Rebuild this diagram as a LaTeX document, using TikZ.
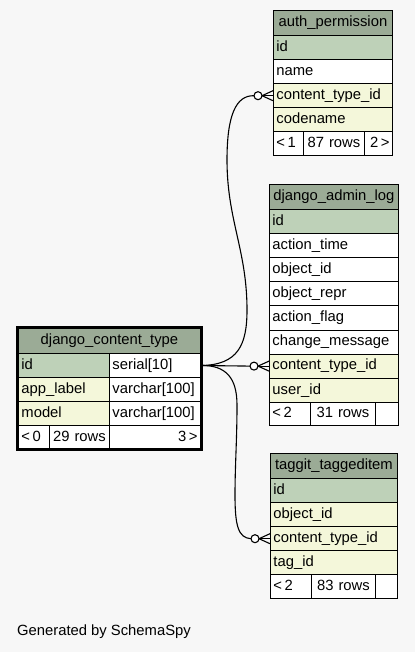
\documentclass[tikz,border=0pt]{standalone}
\usepackage{fontspec}
\setmainfont{Liberation Sans}
\usetikzlibrary{calc}
\definecolor{bg}{HTML}{F7F7F7}
\definecolor{hdr}{HTML}{9BAB96}
\definecolor{pk}{HTML}{BED1B8}
\definecolor{fk}{HTML}{F4F7DA}
\tikzset{
  tcellsty/.style={draw=black, line width=0.9pt, anchor=north west, inner xsep=3pt, inner ysep=0pt,
    text height=10.6pt, text depth=3pt, font=\fontsize{14.8}{17}\selectfont},
  conn/.style={draw=black, line width=1.1pt},
  plain/.style={font=\fontsize{14.8}{17}\selectfont, inner sep=0pt},
}
\newcommand\tcell[8]{%
  \pgfmathsetmacro\tcw{#4-6}%
  \node[tcellsty, fill=#6, minimum width=#4pt, minimum height=#5pt, text width=\tcw pt, align=#8] (#1) at (#2,#3) {#7};}
\newcommand\crowfoot[2]{% #1 row node, #2 name prefix
  \coordinate (#2T) at ($(#1.west)+(-11,0)$);
  \coordinate (#2C) at ($(#2T)+(-8,0)$);
  \draw[conn] ($(#1.west)+(0,-5)$) -- (#2T) -- ($(#1.west)+(0,5)$);
  \draw[conn] (#1.west) -- (#2T);
  \draw[conn, fill=white] ($(#2T)+(-4,0)$) circle[radius=4pt];}
\begin{document}
\begin{tikzpicture}[x=1pt, y=-1pt]
\fill[bg] (0,0) rectangle (415,652);
\useasboundingbox (0,0) rectangle (415,652);

% auth_permission
\tcell{ap-h}{273}{10}{119}{25}{hdr}{auth\_permission}{center}
\tcell{ap-id}{273}{35}{119}{24.1}{pk}{id}{left}
\tcell{ap-name}{273}{59.1}{119}{24.1}{white}{name}{left}
\tcell{ap-ct}{273}{83.2}{119}{24.1}{fk}{content\_type\_id}{left}
\tcell{ap-code}{273}{107.3}{119}{24.1}{fk}{codename}{left}
\tcell{ap-f1}{273}{131.4}{30}{23.5}{white}{<\,1}{left}
\tcell{ap-f2}{303}{131.4}{61}{23.5}{white}{87 rows}{center}
\tcell{ap-f3}{364}{131.4}{28}{23.5}{white}{2\,>}{right}

% django_admin_log
\tcell{al-h}{269}{184}{129}{25}{hdr}{django\_admin\_log}{center}
\tcell{al-id}{269}{209}{129}{24.1}{pk}{id}{left}
\tcell{al-at}{269}{233.1}{129}{24.1}{white}{action\_time}{left}
\tcell{al-oi}{269}{257.2}{129}{24.1}{white}{object\_id}{left}
\tcell{al-or}{269}{281.3}{129}{24.1}{white}{object\_repr}{left}
\tcell{al-af}{269}{305.4}{129}{24.1}{white}{action\_flag}{left}
\tcell{al-cm}{269}{329.5}{129}{24.1}{white}{change\_message}{left}
\tcell{al-ct}{269}{353.6}{129}{24.1}{fk}{content\_type\_id}{left}
\tcell{al-ui}{269}{377.7}{129}{24.1}{fk}{user\_id}{left}
\tcell{al-f1}{269}{401.8}{41}{23.5}{white}{<\,2}{left}
\tcell{al-f2}{310}{401.8}{65}{23.5}{white}{31 rows}{center}
\tcell{al-f3}{375}{401.8}{23}{23.5}{white}{}{right}

% taggit_taggeditem
\tcell{tt-h}{270}{453}{127}{25}{hdr}{taggit\_taggeditem}{center}
\tcell{tt-id}{270}{478}{127}{24.1}{pk}{id}{left}
\tcell{tt-oi}{270}{502.1}{127}{24.1}{fk}{object\_id}{left}
\tcell{tt-ct}{270}{526.2}{127}{24.1}{fk}{content\_type\_id}{left}
\tcell{tt-tg}{270}{550.3}{127}{24.1}{fk}{tag\_id}{left}
\tcell{tt-f1}{270}{574.4}{41}{23.5}{white}{<\,2}{left}
\tcell{tt-f2}{311}{574.4}{64}{23.5}{white}{83 rows}{center}
\tcell{tt-f3}{375}{574.4}{22}{23.5}{white}{}{right}

% django_content_type
\tcell{ct-h}{18}{328}{182}{25}{hdr}{django\_content\_type}{center}
\tcell{ct-id}{18}{353}{91}{24.1}{pk}{id}{left}
\tcell{ct-idv}{109}{353}{91}{24.1}{white}{serial[10]}{left}
\tcell{ct-al}{18}{377.1}{91}{24.1}{fk}{app\_label}{left}
\tcell{ct-alv}{109}{377.1}{91}{24.1}{white}{varchar[100]}{left}
\tcell{ct-md}{18}{401.2}{91}{24.1}{fk}{model}{left}
\tcell{ct-mdv}{109}{401.2}{91}{24.1}{white}{varchar[100]}{left}
\tcell{ct-f1}{18}{425.3}{31}{23.5}{white}{<\,0}{left}
\tcell{ct-f2}{49}{425.3}{60}{23.5}{white}{29 rows}{center}
\tcell{ct-f3}{109}{425.3}{91}{23.5}{white}{3\,>}{right}
\draw[line width=3pt] (17,327) rectangle (201,449.8);

% connectors
\crowfoot{ap-ct}{ap}
\crowfoot{al-ct}{al}
\crowfoot{tt-ct}{tt}
\draw[conn] (ct-idv.east) .. controls (238,365) and (247,345) .. (247,310)
  .. controls (247,250) and (227,220) .. (227,160)
  .. controls (227,115) and (236,95.25) .. (apC);
\draw[conn] (ct-idv.east) -- (alC);
\draw[conn] (ct-idv.east) .. controls (226,365) and (237,378) .. (237,405)
  .. controls (237,440) and (235,465) .. (235,495)
  .. controls (235,525) and (238,538) .. (ttC);

\node[plain, anchor=west] (gen) at (17,632) {Generated by SchemaSpy};
\end{tikzpicture}
\end{document}
